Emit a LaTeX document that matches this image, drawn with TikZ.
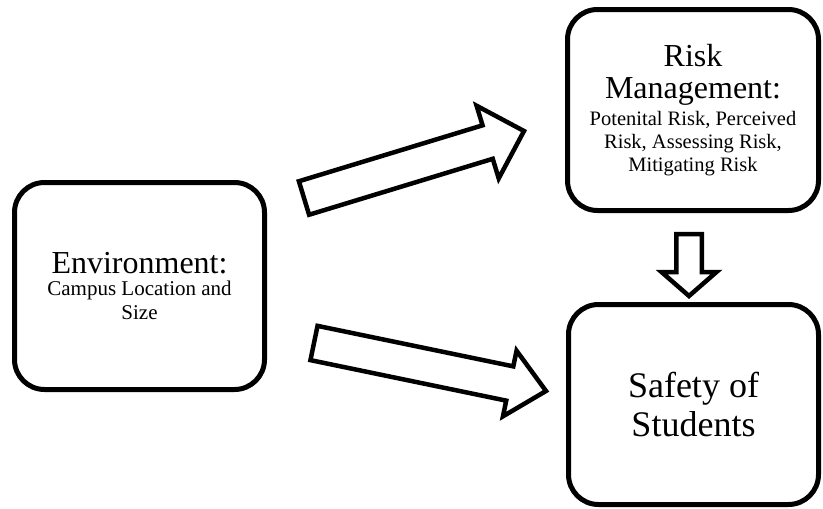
\documentclass[tikz,border=0pt]{standalone}
\usepackage{fontspec}
\setmainfont{Liberation Serif}
\usetikzlibrary{calc}

% hollow block arrow: tail, tip, shaft half width, head half width, head length
\newcommand{\blockarrow}[5]{%
  \coordinate (#2-h) at ($(#2)!#5!(#1)$);
  \draw[barrow] ($(#1)!#3!90:(#2)$) -- ($(#2-h)!#3!-90:(#1)$)
    -- ($(#2-h)!#4!-90:(#1)$) -- (#2) -- ($(#2-h)!#4!90:(#1)$)
    -- ($(#2-h)!#3!90:(#1)$) -- ($(#1)!#3!-90:(#2)$) -- cycle;}
\newcommand{\bigtxt}[1]{{\fontsize{32}{32}\selectfont #1}}

\begin{document}
\begin{tikzpicture}[x=1pt, y=-1pt,
    box/.style={draw, line width=5pt, rounded corners=30pt, align=center,
                inner sep=0pt},
    barrow/.style={draw, line width=4.5pt, miter limit=10}]
    \useasboundingbox (0,0) rectangle (823,509);

    % boxes
    \node[box, minimum width=250pt, minimum height=207pt,
          font=\fontsize{21}{24}\selectfont] (env) at (139.5,286)
      {\bigtxt{Environment:}\\[-2pt]
       Campus Location and\\
       Size};
    \node[box, minimum width=251pt, minimum height=201pt,
          font=\fontsize{20.5}{23}\selectfont] (risk) at (693,110)
      {\bigtxt{Risk}\\[9pt]
       \bigtxt{Management:}\\[4pt]
       Potenital Risk, Perceived\\
       Risk, Assessing Risk,\\
       Mitigating Risk};
    \node[box, minimum width=250pt, minimum height=200pt,
          font=\fontsize{36}{39}\selectfont] (safety) at (693.5,404.5)
      {Safety of\\
       Students};

    % arrow ends
    \coordinate (up-tail)   at (304,198);
    \coordinate (up-tip)    at (524,131);
    \coordinate (low-tail)  at (314,343);
    \coordinate (low-tip)   at (546,391);
    \coordinate (down-tail) at (689,234);
    \coordinate (down-tip)  at (689,296);

    \blockarrow{up-tail}{up-tip}{17.5pt}{38pt}{38pt}
    \blockarrow{low-tail}{low-tip}{17.5pt}{33.5pt}{37pt}
    \blockarrow{down-tail}{down-tip}{12.75pt}{27.5pt}{24pt}
  \end{tikzpicture}
\end{document}
